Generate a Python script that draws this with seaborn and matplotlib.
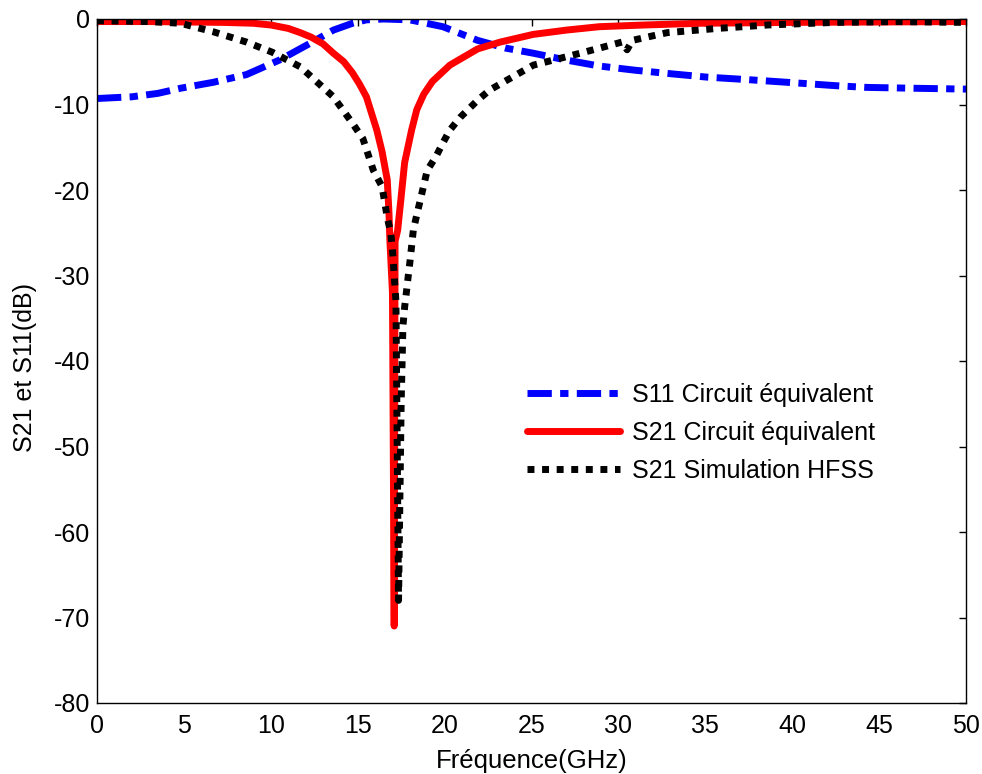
import numpy as np
import pandas as pd
import matplotlib
matplotlib.use("Agg")
import matplotlib.pyplot as plt
import seaborn as sns

# S11 circuit equivalent (blue dash-dot)
freq_s11 = [0, 2, 3.5, 4.8, 6.7, 8.6, 10.5, 12.3, 13.6, 14.7, 15.5, 16.5, 18.0, 19.9,
            21.9, 23.5, 25.1, 27, 28.9, 31, 33, 35.1, 37.5, 40.4, 42.5, 44.3, 47, 50]
s11_circuit = [-9.3, -9.1, -8.7, -8.1, -7.4, -6.5, -4.8, -2.8, -1.3, -0.5, -0.1, 0.0,
               -0.1, -0.9, -2.5, -3.4, -4.0, -4.8, -5.5, -6.0, -6.4, -6.8, -7.1, -7.5,
               -7.8, -8.0, -8.1, -8.2]

# S21 circuit equivalent (red solid)
freq_s21c = [0, 3, 5, 7.3, 9, 10, 11, 11.7, 12.3, 13, 13.6, 14.2, 14.7, 15.1, 15.5, 16.1,
             16.4, 16.7, 16.8, 16.85, 17.0, 17.1, 17.15, 17.3, 17.5, 17.7, 18.1, 18.4,
             18.8, 19.3, 20.3, 21.9, 23.2, 25.1, 27, 28.9, 31.5, 34.7, 40, 45, 50]
s21_circuit = [-0.3, -0.3, -0.35, -0.4, -0.5, -0.7, -1.1, -1.6, -2.1, -2.9, -4.0, -5.0,
               -6.3, -7.6, -9.1, -13, -15.5, -18.8, -22.7, -25.8, -32, -71, -26, -24.7,
               -20.8, -16.8, -13, -10.6, -8.8, -7.3, -5.4, -3.5, -2.7, -1.8, -1.3, -0.9,
               -0.7, -0.5, -0.4, -0.35, -0.3]

# S21 HFSS simulation (black dotted)
freq_hfss = [0, 3, 4.8, 6.7, 8.6, 10.1, 11.7, 13.6, 14.7, 15.3, 15.9, 16.4, 16.7, 16.9,
             17.0, 17.2, 17.35, 17.5, 17.6, 17.7, 17.8, 17.9, 18.0, 18.2, 18.4, 18.6, 19.0,
             19.5, 19.9, 20.3, 20.9, 21.9, 22.6, 25.1, 28, 30.2, 30.5, 30.8, 32.8, 35.7,
             38.6, 42.4, 46, 50]
s21_hfss = [-0.2, -0.3, -0.5, -1.5, -2.7, -3.9, -5.6, -9.1, -12.2, -14.0, -17.7, -19.6,
            -23.2, -25, -27, -33, -68, -45, -36, -33.7, -32, -30.2, -28.5, -24.7, -22.9,
            -21.2, -17.7, -16.1, -14.5, -13, -11.5, -9.5, -8.3, -5.4, -3.9, -2.7, -3.6,
            -2.5, -1.6, -1.1, -0.7, -0.4, -0.3, -0.4]

x_ticks = list(range(0, 51, 5))
y_ticks = list(range(-80, 1, 10))

sns.set_style("white")
plt.rcParams["font.family"] = ["Liberation Sans", "DejaVu Sans"]
plt.rcParams["axes.unicode_minus"] = False
for key in ["text.color", "axes.labelcolor", "xtick.color", "ytick.color"]:
    plt.rcParams[key] = "black"

fig = plt.figure(figsize=(9.82, 7.74), dpi=100)
ax = fig.add_axes([97 / 982, 71 / 774, 869 / 982, 684 / 774])

sns.lineplot(x=freq_s11, y=s11_circuit, ax=ax, color="#0000ff", lw=5,
             linestyle=(0, (3.5, 1.2, 1.2, 1.2)), label="S11 Circuit équivalent",
             sort=False, estimator=None)
sns.lineplot(x=freq_s21c, y=s21_circuit, ax=ax, color="#ff0000", lw=5,
             label="S21 Circuit équivalent", sort=False, estimator=None)
sns.lineplot(x=freq_hfss, y=s21_hfss, ax=ax, color="black", lw=5,
             linestyle=(0, (1, 1.1)), label="S21 Simulation HFSS",
             sort=False, estimator=None)
for ln in ax.lines:
    ln.set_dash_capstyle("butt")

ax.set_xlim(0, 50)
ax.set_ylim(-80, 0)
ax.set_xticks(x_ticks)
ax.set_yticks(y_ticks)
ax.tick_params(direction="in", length=5, width=1, top=True, right=True, labelsize=18)
ax.tick_params(axis="x", pad=8)
ax.tick_params(axis="y", pad=5)
for sp in ax.spines.values():
    sp.set_color("black")
    sp.set_linewidth(1)

ax.set_xlabel("Fréquence(GHz)", fontsize=18.5, labelpad=8)
ax.set_ylabel("S21 et S11(dB)", fontsize=18)
ax.yaxis.set_label_coords((37 - 97) / 869, (703 - 367) / 684)

ax.legend(loc="upper left", bbox_to_anchor=((527 - 97) / 869, (703 - 383) / 684),
          frameon=False, fontsize=18, handlelength=3.7, handletextpad=0.5,
          labelspacing=0.56, borderpad=0, borderaxespad=0)

fig.savefig("out.png", dpi=100)
